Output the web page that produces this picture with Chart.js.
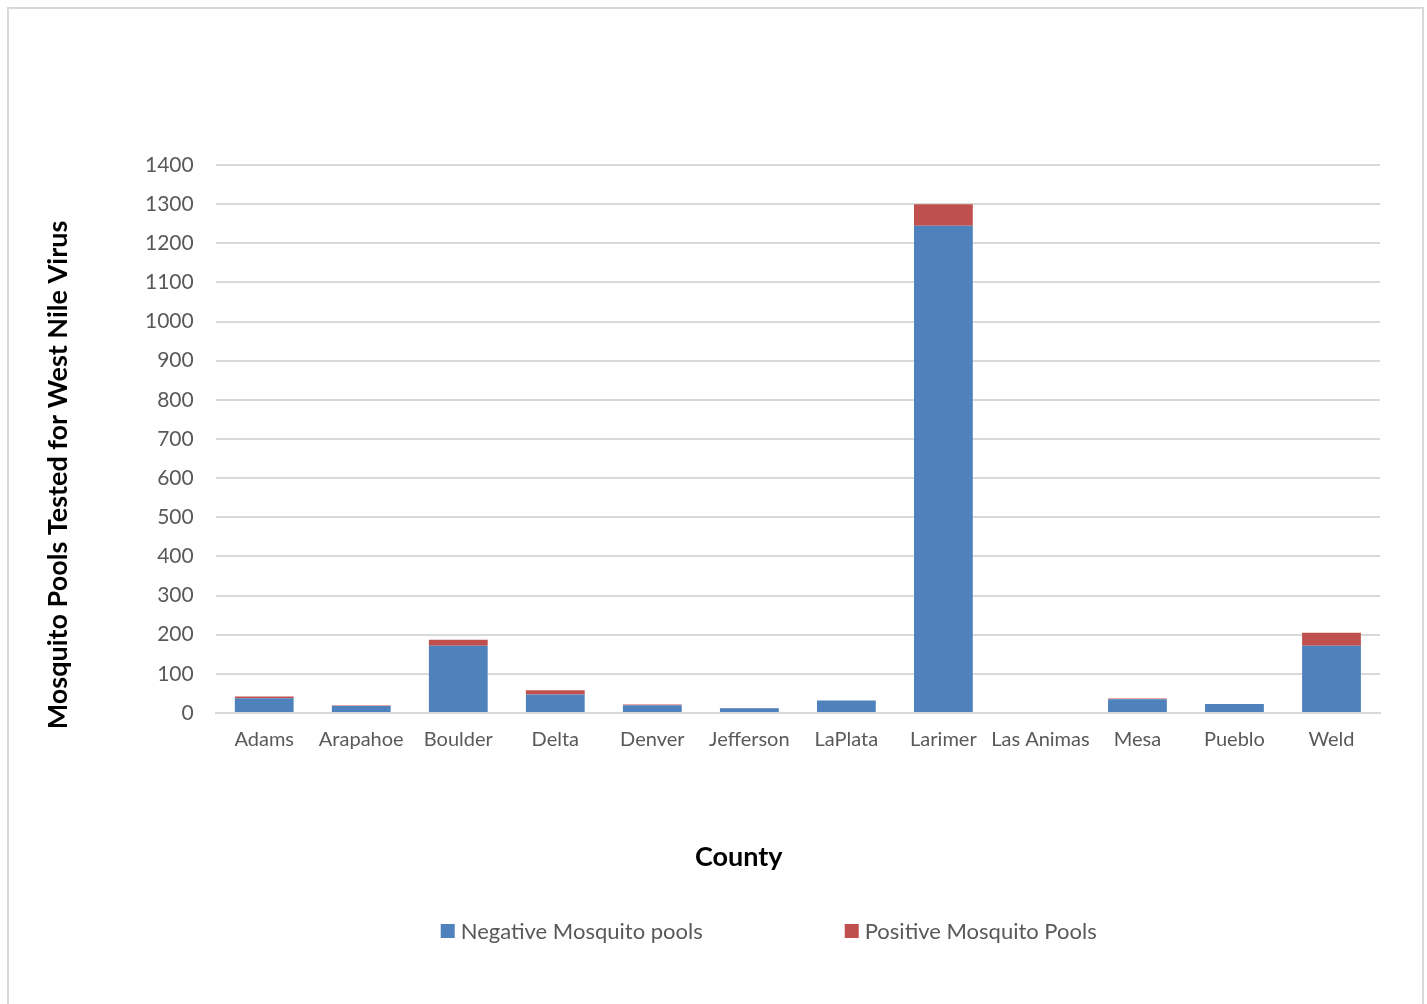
<!DOCTYPE html>
<html>
<head>
<meta charset="utf-8">
<script src="https://cdn.jsdelivr.net/npm/chart.js@4.4.1/dist/chart.umd.min.js"></script>
<style>
    html, body { margin: 0; padding: 0; background: #fff; }
    #chart { position: absolute; left: 0; top: 0; display: block; }
    #frame {
        position: absolute;
        left: 7px;
        top: 7px;
        width: 1417px;
        height: 1010px;
        border: 2px solid #d9d9d9;
        box-sizing: border-box;
        pointer-events: none;
    }
</style>
</head>
<body>
<canvas id="chart" width="1427" height="1004"></canvas>
<div id="frame"></div>
<script>
// Data
const counties = ['Adams', 'Arapahoe', 'Boulder', 'Delta', 'Denver', 'Jefferson', 'LaPlata',
    'Larimer', 'Las Animas', 'Mesa', 'Pueblo', 'Weld'];
const negativePools = [38, 18, 172, 47, 20, 12, 32, 1245, 0, 35, 23, 172];
const positivePools = [4, 1, 15, 11, 2, 1, 0, 55, 0, 2, 0, 33];

const xTitle = 'County';
const yTitle = 'Mosquito Pools Tested for West Nile Virus';

const fontFamily = 'Lato, "Open Sans", sans-serif';
const gridColor = '#d9d9d9';
const textColor = '#595959';

// Axis titles and legend drawn like the Excel layout (offsets from the plot area)
const excelExtras = {
    id: 'excelExtras',
    afterDraw(chart) {
        const ctx = chart.ctx;
        const ca = chart.chartArea;
        ctx.save();
        ctx.fillStyle = '#000';
        ctx.font = 'bold 27px ' + fontFamily;
        ctx.textAlign = 'center';
        ctx.textBaseline = 'middle';
        ctx.fillText(xTitle, ca.left + 523, ca.bottom + 144);

        ctx.translate(ca.left - 157, ca.top + 310);
        ctx.rotate(-Math.PI / 2);
        ctx.fillText(yTitle, 0, 0);
        ctx.restore();

        // legend
        ctx.save();
        ctx.font = '22px ' + fontFamily;
        ctx.textAlign = 'left';
        ctx.textBaseline = 'middle';
        const legendY = ca.bottom + 218;
        const legendX = [ca.left + 225, ca.left + 629];
        chart.data.datasets.forEach((ds, i) => {
            ctx.fillStyle = ds.backgroundColor;
            ctx.fillRect(legendX[i], legendY - 7, 14, 14);
            ctx.fillStyle = textColor;
            ctx.fillText(ds.label, legendX[i] + 20, legendY + 1);
        });
        ctx.restore();
    }
};

new Chart(document.getElementById('chart'), {
    type: 'bar',
    data: {
        labels: counties,
        datasets: [{
            label: 'Negative Mosquito pools',
            data: negativePools,
            backgroundColor: '#4f81bd',
            categoryPercentage: 1,
            barPercentage: 0.606
        },
        {
            label: 'Positive Mosquito Pools',
            data: positivePools,
            backgroundColor: '#c0504d',
            categoryPercentage: 1,
            barPercentage: 0.606
        }]
    },
    options: {
        responsive: false,
        animation: false,
        layout: {
            padding: { top: 165, right: 47, left: 123, bottom: 237 }
        },
        scales: {
            x: {
                stacked: true,
                grid: { display: false, drawTicks: false },
                border: { color: gridColor, width: 2 },
                ticks: {
                    color: textColor,
                    padding: 15,
                    maxRotation: 0,
                    autoSkip: false,
                    font: { family: fontFamily, size: 20 }
                }
            },
            y: {
                stacked: true,
                min: 0,
                max: 1400,
                grid: { color: gridColor, lineWidth: 2, drawTicks: false },
                border: { display: false },
                ticks: {
                    stepSize: 100,
                    color: textColor,
                    padding: 22,
                    callback: v => String(v),
                    font: { family: fontFamily, size: 21 }
                }
            }
        },
        plugins: {
            legend: { display: false },
            tooltip: { enabled: false }
        }
    },
    plugins: [excelExtras]
});
</script>
</body>
</html>
